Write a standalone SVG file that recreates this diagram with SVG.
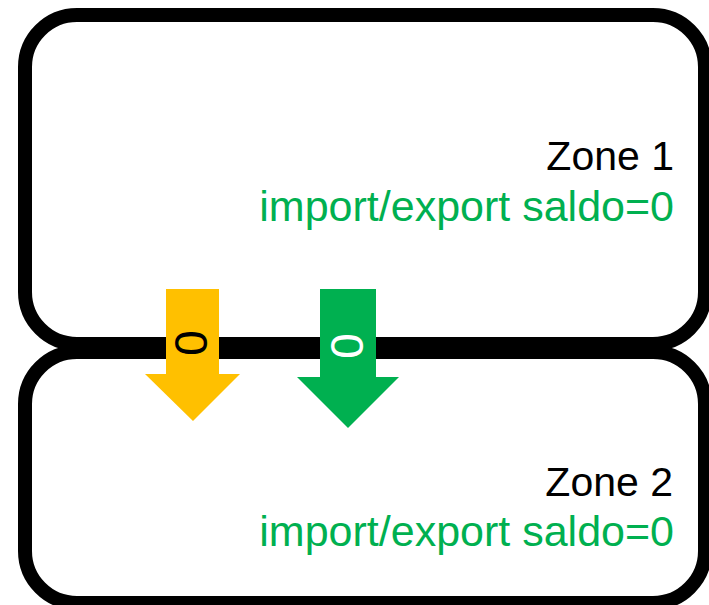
<svg xmlns="http://www.w3.org/2000/svg" width="709" height="605" viewBox="0 0 709 605">
  <style>
    .zone { fill: #FFFFFF; stroke: #000000; stroke-width: 14; }
    .label { font-family: "Liberation Sans", Arial, sans-serif; text-anchor: end; }
    .title { fill: #000000; font-size: 41px; }
    .saldo { fill: #00B050; font-size: 43px; }
    .flow { font-family: "Liberation Sans", Arial, sans-serif; font-size: 46px; text-anchor: middle; dominant-baseline: central; }
  </style>
  <rect width="709" height="605" fill="#FFFFFF"/>

  <g id="zone1">
    <rect class="zone" x="25" y="15" width="680" height="329" rx="52" ry="52"/>
    <text class="label title" x="674" y="170">Zone 1</text>
    <text class="label saldo" x="674" y="221">import/export saldo=0</text>
  </g>

  <g id="zone2">
    <rect class="zone" x="25" y="352" width="680" height="251" rx="52" ry="52"/>
    <text class="label title" x="673" y="496">Zone 2</text>
    <text class="label saldo" x="674" y="546">import/export saldo=0</text>
  </g>

  <g id="connectors">
    <g id="flow-yellow">
      <polygon points="166,289 219,289 219,374 240,374 193,421 145,374 166,374" fill="#FFC000"/>
      <text class="flow" x="191" y="343" fill="#000000" transform="rotate(90 191 343)">0</text>
    </g>
    <g id="flow-green">
      <polygon points="320,289 376,289 376,377 399,377 348,428 297,377 320,377" fill="#00B050"/>
      <text class="flow" x="347" y="346" fill="#FFFFFF" transform="rotate(90 347 346)">0</text>
    </g>
  </g>
</svg>
